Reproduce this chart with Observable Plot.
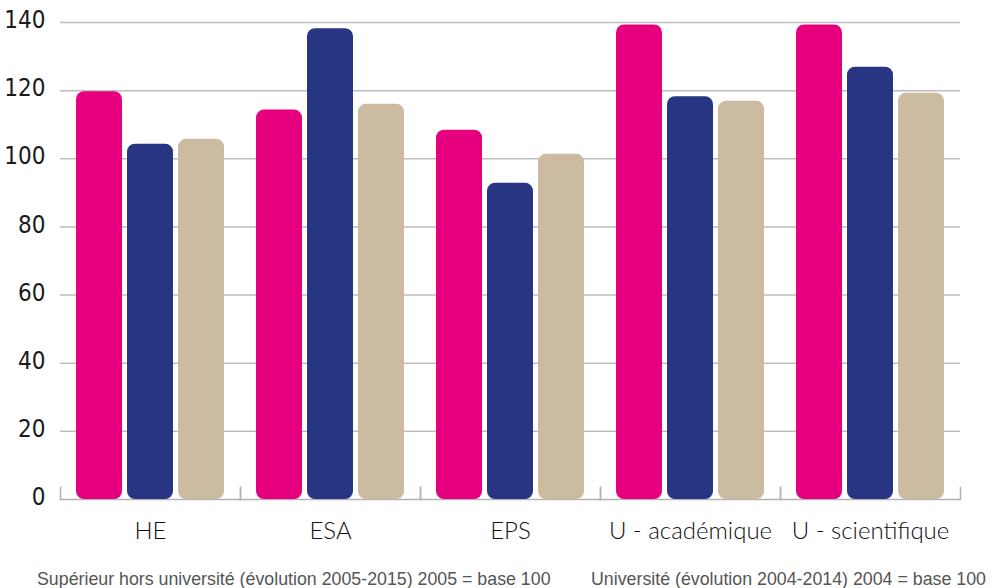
<!DOCTYPE html>
<html>
<head>
<meta charset="utf-8">
<script src="https://cdn.jsdelivr.net/npm/d3@7"></script>
<script src="https://cdn.jsdelivr.net/npm/@observablehq/plot@0.6"></script>
<style>
  body { margin: 0; background: #fff; }
  #chart { position: relative; width: 1000px; height: 588px; overflow: hidden; }
  .cap { position: absolute; top: 569px; font-family: "Liberation Sans", Arial, sans-serif; font-size: 17.8px; color: #555; white-space: nowrap; line-height: normal; }
</style>
</head>
<body>
<div id="chart"></div>
<script>
// ---- data ----
const categories = ["HE", "ESA", "EPS", "U - académique", "U - scientifique"];
const seriesNames = ["série 1", "série 2", "série 3"];
const seriesColors = ["#E6007E", "#283583", "#CBBBA0"];
const valuesSerie1 = [119.7, 114.3, 108.4, 139.3, 139.3];
const valuesSerie2 = [104.3, 138.2, 92.8, 118.2, 126.9];
const valuesSerie3 = [105.7, 116.0, 101.3, 116.9, 119.2];
const yTicks = [0, 20, 40, 60, 80, 100, 120, 140];
const captionLeft = "Supérieur hors université (évolution 2005-2015) 2005 = base 100";
const captionRight = "Université (évolution 2004-2014) 2004 = base 100";

const seriesValues = [valuesSerie1, valuesSerie2, valuesSerie3];
const data = categories.flatMap((cat, i) =>
  seriesNames.map((s, j) => ({cat, series: s, value: seriesValues[j][i]}))
);

const tickFont = '"DejaVu Sans Condensed", "DejaVu Sans", sans-serif';
const catFont = 'Lato, "Open Sans", sans-serif';

const plot = Plot.plot({
  width: 1000,
  height: 555,
  marginLeft: 60,
  marginRight: 40,
  marginTop: 22,
  marginBottom: 56,
  style: {fontFamily: tickFont, fontSize: "24px", color: "#161616", background: "#fff", overflow: "visible"},
  fx: {domain: categories, padding: 0, label: null},
  x: {domain: seriesNames, axis: null, paddingInner: 0.1, paddingOuter: 0.29},
  y: {domain: [0, 140], label: null},
  color: {domain: seriesNames, range: seriesColors},
  marks: [
    Plot.ruleY(yTicks.filter(d => d > 0), {stroke: "#bdbdbd", strokeWidth: 1.5}),
    Plot.ruleY([0], {stroke: "#b3b3b3", strokeWidth: 1.5}),
    Plot.frame({anchor: "left", insetTop: 465, stroke: "#b3b3b3", strokeWidth: 1.5}),
    Plot.frame({anchor: "right", insetTop: 465, stroke: "#b3b3b3", strokeWidth: 1.5}),
    Plot.barY(data, {fx: "cat", x: "series", y: "value", fill: "series", rx: 8}),
    Plot.axisY(yTicks, {tickSize: 0, tickPadding: 15, label: null, fontSize: 24, fontFamily: tickFont, fill: "#1a1a1a", dy: -2}),
    Plot.axisFx({anchor: "bottom", tickSize: 0, tickPadding: 22, label: null, fontSize: 24, fontWeight: 300, fontFamily: catFont, fill: "#111"})
  ]
});

const chart = document.getElementById("chart");
chart.appendChild(plot);
const c1 = document.createElement("div");
c1.className = "cap"; c1.style.left = "37px"; c1.textContent = captionLeft;
const c2 = document.createElement("div");
c2.className = "cap"; c2.style.left = "591px"; c2.textContent = captionRight;
chart.appendChild(c1); chart.appendChild(c2);
</script>
</body>
</html>
